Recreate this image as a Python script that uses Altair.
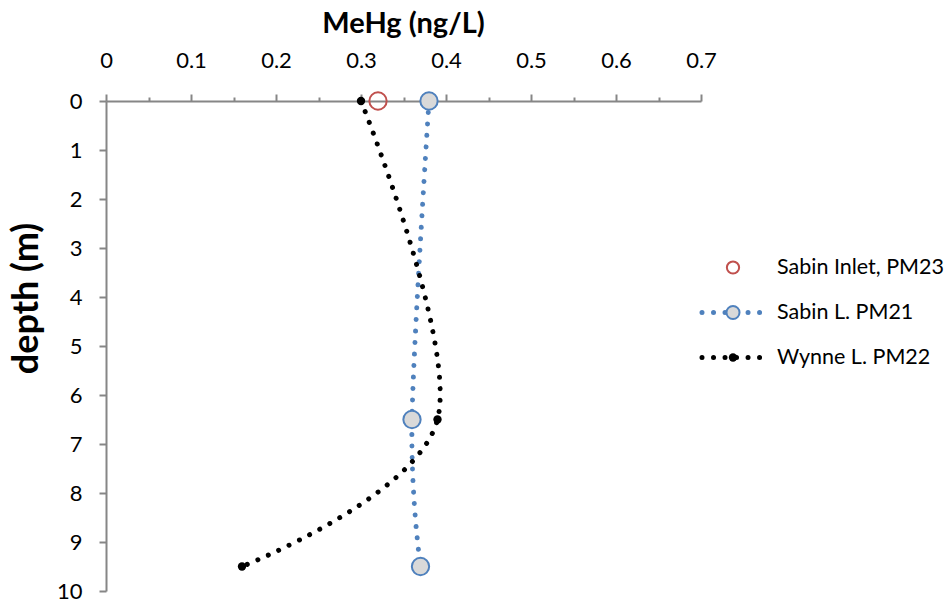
import altair as alt
import pandas as pd

# ---- data ----
series_names = ["Sabin Inlet, PM23", "Sabin L. PM21", "Wynne L. PM22"]

inlet_depth = [0.0]
inlet_mehg = [0.32]

sabin_depth = [0.0, 6.5, 9.5]
sabin_mehg = [0.38, 0.36, 0.37]

wynne_depth = [0.0, 6.5, 9.5]
wynne_mehg = [0.30, 0.39, 0.16]

x_ticks = [0, 0.05, 0.1, 0.15, 0.2, 0.25, 0.3, 0.35, 0.4, 0.45, 0.5, 0.55, 0.6, 0.65, 0.7]
y_ticks = [0, 1, 2, 3, 4, 5, 6, 7, 8, 9, 10]

inlet = pd.DataFrame({"depth": inlet_depth, "mehg": inlet_mehg})
sabin = pd.DataFrame({"depth": sabin_depth, "mehg": sabin_mehg})
wynne = pd.DataFrame({"depth": wynne_depth, "mehg": wynne_mehg})

FONT = "Lato"
AXIS_GREY = "#868686"
BLUE = "#4F81BD"
RED = "#C0504D"

x_enc = alt.X(
    "mehg:Q",
    scale=alt.Scale(domain=[0, 0.7], nice=False, zero=True),
    axis=alt.Axis(
        orient="top",
        values=x_ticks,
        title="MeHg (ng/L)",
        labelExpr="round(datum.value*20) % 2 == 1 ? '' : format(datum.value, '.1~f')",
        tickSize={"condition": {"test": "round(datum.value*20) % 2 == 1", "value": 4}, "value": 7},
        labelFlush=False,
        labelPadding=22,
        titleX=297,
        titleY=-69,
        titleAlign="center",
        titleBaseline="alphabetic",
        titleFontSize=29,
    ),
)
y_enc = alt.Y(
    "depth:Q",
    scale=alt.Scale(domain=[0, 10], reverse=True, nice=False),
    axis=alt.Axis(
        values=y_ticks,
        title="depth (m)",
        tickSize=7,
        labelFlush=False,
        labelPadding=17,
        titleAngle=270,
        titleX=-80,
        titleY=197,
        titleAlign="center",
        titleBaseline="middle",
        titleFontSize=36,
    ),
)

dot_line = dict(strokeWidth=5, strokeCap="round", strokeDash=[0.01, 11.5], interpolate="cardinal")

sabin_line = alt.Chart(sabin).mark_line(color=BLUE, **dot_line).encode(
    x=x_enc, y=y_enc, order=alt.Order("depth:Q")
)
wynne_line = alt.Chart(wynne).mark_line(color="black", **dot_line).encode(
    x=x_enc, y=y_enc, order=alt.Order("depth:Q")
)
sabin_pts = alt.Chart(sabin).mark_point(
    shape="circle", size=300, filled=True, fill="#D9D9D9", stroke=BLUE, strokeWidth=2, opacity=1
).encode(x=x_enc, y=y_enc)
wynne_pts = alt.Chart(wynne).mark_point(
    shape="circle", size=70, filled=True, fill="black", stroke="black", strokeWidth=0, opacity=1
).encode(x=x_enc, y=y_enc)
inlet_pts = alt.Chart(inlet).mark_point(
    shape="circle", size=300, filled=False, stroke=RED, strokeWidth=2, opacity=1
).encode(x=x_enc, y=y_enc)

main = alt.layer(sabin_line, wynne_line, inlet_pts, sabin_pts, wynne_pts)

# ---- legend drawn to the right of the plot ----
leg_df = pd.DataFrame({"series": series_names})
leg_y = alt.Y("series:N", scale=alt.Scale(domain=series_names, range=[144, 279], padding=0), axis=None)

leg_rules = alt.Chart(leg_df).transform_filter(
    alt.FieldOneOfPredicate(field="series", oneOf=series_names[1:])
).mark_rule(strokeWidth=5, strokeCap="round", strokeDash=[0.01, 11.5]).encode(
    y=leg_y,
    x=alt.value(596),
    x2=alt.value(658),
    color=alt.Color("series:N", scale=alt.Scale(domain=series_names[1:], range=[BLUE, "black"]), legend=None),
)
leg_inlet = alt.Chart(leg_df).transform_filter(
    alt.FieldEqualPredicate(field="series", equal=series_names[0])
).mark_point(shape="circle", size=150, filled=False, stroke=RED, strokeWidth=2, opacity=1).encode(
    y=leg_y, x=alt.value(627)
)
leg_sabin = alt.Chart(leg_df).transform_filter(
    alt.FieldEqualPredicate(field="series", equal=series_names[1])
).mark_point(shape="circle", size=170, filled=True, fill="#D9D9D9", stroke=BLUE, strokeWidth=2, opacity=1).encode(
    y=leg_y, x=alt.value(627)
)
leg_wynne = alt.Chart(leg_df).transform_filter(
    alt.FieldEqualPredicate(field="series", equal=series_names[2])
).mark_point(shape="circle", size=70, filled=True, fill="black", strokeWidth=0, opacity=1).encode(
    y=leg_y, x=alt.value(627)
)
leg_text = alt.Chart(leg_df).mark_text(
    align="left", baseline="middle", font=FONT, fontSize=21.5, color="black"
).encode(y=leg_y, x=alt.value(671), text="series:N")

legend = alt.layer(leg_rules, leg_inlet, leg_sabin, leg_wynne, leg_text)

chart = alt.layer(main, legend).resolve_scale(y="independent", color="independent").properties(
    width=595,
    height=490,
    autosize=alt.AutoSizeParams(type="none"),
    padding={"left": 106, "top": 101, "right": 246, "bottom": 17},
    background="white",
).configure_view(stroke=None).configure_axis(
    grid=False,
    domainColor=AXIS_GREY,
    domainWidth=2,
    tickColor=AXIS_GREY,
    tickWidth=2,
    labelFont=FONT,
    labelFontSize=22,
    labelColor="black",
    titleFont=FONT,
    titleFontWeight="bold",
    titleColor="black",
)

chart.save("out.html", embed_options={"renderer": "svg", "actions": False})
